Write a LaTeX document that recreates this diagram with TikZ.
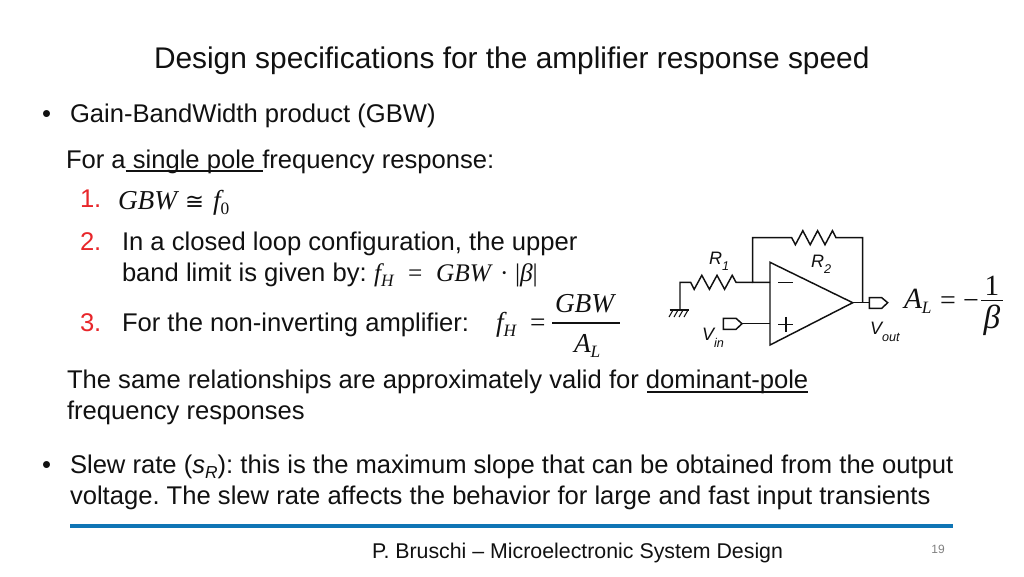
\documentclass[tikz,border=0pt]{standalone}
\usepackage{fontspec}
\setmainfont{Liberation Sans}
\newfontfamily\serifm{Liberation Serif}
\newfontfamily\symf{DejaVu Sans}
\newcommand{\fs}[1]{\fontsize{#1}{#1}\selectfont}
\newcommand{\mi}[1]{{\serifm\itshape #1}}
\newcommand{\lowr}[2]{\raisebox{#1}{#2}}
\definecolor{ink}{HTML}{111111}
\definecolor{redn}{HTML}{E8262A}
\definecolor{rule}{HTML}{0F75B5}
\tikzset{
  x=0.75pt,y=-0.75pt,
  txt/.style={anchor=base west,inner sep=0,outer sep=0,text=ink,font=\fs{19.2}},
  title/.style={txt,font=\fs{22.4}},
  num/.style={anchor=base west,inner sep=0,outer sep=0,text=redn,font=\fs{19.2}},
  mth/.style={anchor=base west,inner sep=0,outer sep=0,text=ink,font=\fs{20.5}\serifm},
  lab/.style={anchor=base west,inner sep=0,outer sep=0,text=ink,font=\fs{13.5}\itshape},
  wire/.style={draw=ink,line width=1.1pt,line join=miter},
  uline/.style={draw=ink,line width=1pt},
}
\begin{document}
\frenchspacing
\begin{tikzpicture}
\useasboundingbox[fill=white] (0,0) rectangle (1024,576);
% title
\node[title] (ttl) at (154,68) {Design specifications for the amplifier response speed};
% bullets
\node[txt] (b1) at (42,122) {•};
\node[txt] (l1) at (70,122) {Gain-BandWidth product (GBW)};
\node[txt] (l2) at (66,168) {For a single pole frequency response:};
\draw[uline] (125.5,171) -- (262.5,171);
\node[num] (n1) at (80,207) {1.};
\node[mth] (m1) at (118,209) {\mi{GBW}};
\node[mth,font=\fs{17}\symf] (m1e) at (185,209) {≅};
\node[mth] (m1f) at (213,209) {\mi{f}\lowr{-0.2em}{\fs{13}0}};
\node[num] (n2) at (80,250) {2.};
\node[txt] (l3) at (122,250) {In a closed loop configuration, the upper};
\node[txt] (l4) at (122,281) {band limit is given by:};
\node[mth,font=\fs{19}\serifm] (m2) at (374,281) {\mi{f}\lowr{-0.2em}{\fs{13}\itshape H}};
\node[mth,font=\fs{19}\serifm] (m2e) at (408,281) {=};
\node[mth,font=\fs{19}\serifm] (m2g) at (436,281) {\mi{GBW}};
\node[mth,font=\fs{19}\serifm] (m2d) at (500,281) {·};
\node[mth,font=\fs{19}\serifm] (m2b) at (515,281) {|\mi{β}|};
\node[num] (n3) at (80,331) {3.};
\node[txt] (l5) at (122,331) {For the non-inverting amplifier:};
\node[mth] (m3) at (496,331) {\mi{f}\lowr{-0.2em}{\fs{13}\itshape H}};
\node[mth] (m3e) at (530,331) {=};
\node[mth] (m3a) at (555,312) {\mi{GBW}};
\draw[wire] (552,323) -- (620,323);
\node[mth] (m3b) at (574,352) {\mi{A}\lowr{-0.2em}{\fs{13}\itshape L}};
\node[txt] (l6) at (67,388) {The same relationships are approximately valid for dominant-pole};
\draw[uline] (647,392) -- (808,392);
\node[txt] (l7) at (67,419) {frequency responses};
\node[txt] (b2) at (42,473) {•};
\node[txt] (l8) at (70,473) {Slew rate (\textit{s}\lowr{-0.2em}{\fs{13}\itshape R}): this is the maximum slope that can be obtained from the output};
\node[txt] (l9) at (70,504) {voltage. The slew rate affects the behavior for large and fast input transients};
\draw[rule,line width=2.3pt] (70,526) -- (953,526);
\node[txt,font=\fs{16}] (foot) at (372,558) {P. Bruschi – Microelectronic System Design};
\node[anchor=base,inner sep=0,text=black!50,font=\fs{9}] (pg) at (938,553) {19};
% op amp
\coordinate (ta) at (770,262.3);
\coordinate (tb) at (770,345);
\coordinate (tc) at (852.7,302.7);
\draw[wire] (ta) -- (tb) -- (tc) -- cycle;
\draw[wire] (770,282.3) -- (752.7,282.3) -- (752.7,237.7) -- (791.7,237.7)
  -- ++(3.7,7) -- ++(7.4,-14) -- ++(7.4,14) -- ++(7.4,-14) -- ++(7.4,14) -- ++(7.4,-14) -- (836,237.7)
  -- (862.7,237.7) -- (862.7,302.7);
\draw[wire] (tc) -- (869.3,302.7);
\draw[wire] (869.3,297.7) -- (881.7,297.7) -- (887.7,302.7) -- (881.7,308.3) -- (869.3,308.3) -- cycle;
\draw[wire] (752.7,282.3) -- (736,282.3)
  -- ++(-3.8,-7) -- ++(-7.6,14) -- ++(-7.6,-14) -- ++(-7.6,14) -- ++(-7.6,-14) -- ++(-7.6,14) -- (690.7,282.3)
  -- (680,282.3) -- (680,310);
\draw[wire] (669.5,310) -- (688.5,310);
\foreach \xg in {673,678,683,688} \draw[wire,line width=0.8pt] (\xg,310) -- ++(-4,7);
\draw[wire] (770,323.7) -- (742,323.7);
\draw[wire] (723.3,318.3) -- (736,318.3) -- (742,323.7) -- (736,329.3) -- (723.3,329.3) -- cycle;
\draw[wire] (778.3,282.3) -- (793.3,282.3);
\draw[wire] (778.3,324.3) -- (793.3,324.3) (785.8,316.8) -- (785.8,331.8);
% circuit labels
\node[lab] (r1) at (709,264) {R\lowr{-0.35em}{\fs{9.5}1}};
\node[lab] (r2) at (811,267) {R\lowr{-0.35em}{\fs{9.5}2}};
\node[lab] (vi) at (702,340) {V\lowr{-0.39em}{\fs{9.5}in}};
\node[lab] (vo) at (870,334) {V\lowr{-0.39em}{\fs{9.5}out}};
% gain formula
\node[mth,font=\fs{22}\serifm] (al) at (904,308) {\mi{A}\lowr{-0.2em}{\fs{13}\itshape L}};
\node[mth,font=\fs{21}\serifm] (aeq) at (940,309) {=};
\node[mth,font=\fs{21}\serifm] (amin) at (963,309) {−};
\draw[wire] (981,300.7) -- (1003,300.7);
\node[mth,font=\fs{22}\serifm,anchor=base] (one) at (992,295) {1};
\node[mth,font=\fs{25}\serifm,anchor=base] (bet) at (992,328) {\mi{β}};
\end{tikzpicture}
\end{document}
